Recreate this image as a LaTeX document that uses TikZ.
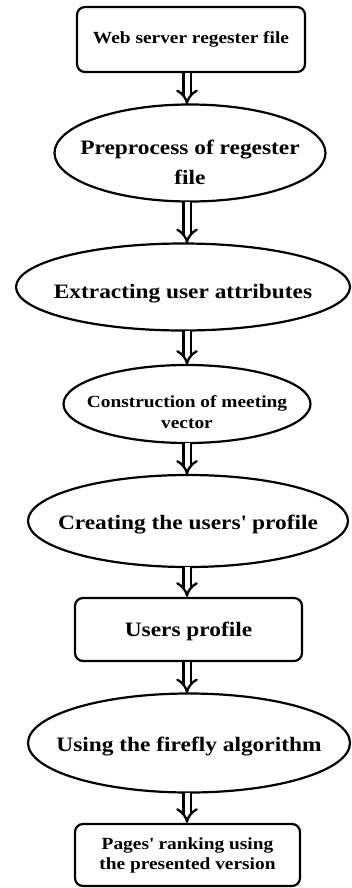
\documentclass[tikz,border=0pt]{standalone}
\usepackage{fontspec}
\setmainfont{Liberation Serif}[FakeStretch=1.14]
\usetikzlibrary{shapes.geometric,arrows.meta}
\newcommand\lowr[2]{\raisebox{-#1}[\height][\depth]{#2}}
\tikzset{
  box/.style={draw, line width=2.2pt, rounded corners=8pt, inner sep=0pt, align=center},
  oval/.style={inner sep=0pt, align=center},
  ring/.style={draw, line width=2.2pt},
  arr/.style={double, double distance=5pt, line width=2.3pt, -{Implies[length=9pt,width=17pt]}},
  big/.style={font=\fontsize{20.5}{30}\selectfont\bfseries},
  small/.style={font=\fontsize{17}{21}\selectfont\bfseries}
}
\begin{document}
\begin{tikzpicture}[x=1pt, y=-1pt]
\useasboundingbox (0,0) rectangle (352,888);
\node[box, small, minimum width=228pt, minimum height=65pt] (b1) at (191,39.5) {Web server regester file};
\node[oval, big, minimum width=271pt, minimum height=97pt] (e2) at (190,153) {\lowr{9pt}{Preprocess of regester}\\\lowr{9pt}{file}};
\node[oval, big, minimum width=336pt, minimum height=87pt] (e3) at (183,287) {\lowr{7pt}{Extracting user attributes}};
\node[oval, small, minimum width=247pt, minimum height=78pt] (e4) at (187,404) {\lowr{8pt}{Construction of meeting}\\\lowr{8pt}{vector}};
\node[oval, big, minimum width=320pt, minimum height=92pt] (e5) at (188,521) {\lowr{4pt}{Creating the users\textquotesingle{} profile}};
\node[box, big, minimum width=227pt, minimum height=63pt] (b6) at (188.5,629.5) {\lowr{2pt}{Users profile}};
\node[oval, big, minimum width=322pt, minimum height=99pt] (e7) at (189,743) {\lowr{4pt}{Using the firefly algorithm}};
\node[box, small, minimum width=225pt, minimum height=62pt, font=\fontsize{17}{20}\selectfont\bfseries] (b8) at (187.5,855) {Pages\textquotesingle{} ranking using\\the presented version};
\draw[ring] (e2.center) ellipse [x radius=135.5pt, y radius=48.5pt];
\draw[ring] (e3.center) ellipse [x radius=167pt, y radius=43.5pt];
\draw[ring] (e4.center) ellipse [x radius=123.5pt, y radius=39pt];
\draw[ring] (e5.center) ellipse [x radius=160pt, y radius=46pt];
\draw[ring] (e7.center) ellipse [x radius=161pt, y radius=49.5pt];
\coordinate (ax) at (187,0);
\draw[arr] (ax |- b1.south) -- (ax |- e2.north);
\draw[arr] (ax |- e2.south) -- (ax |- e3.north);
\draw[arr] (ax |- e3.south) -- (ax |- e4.north);
\draw[arr] (ax |- e4.south) -- (ax |- e5.north);
\draw[arr] (ax |- e5.south) -- (ax |- b6.north);
\draw[arr] (ax |- b6.south) -- (ax |- e7.north);
\draw[arr] (ax |- e7.south) -- (ax |- b8.north);
\end{tikzpicture}
\end{document}
